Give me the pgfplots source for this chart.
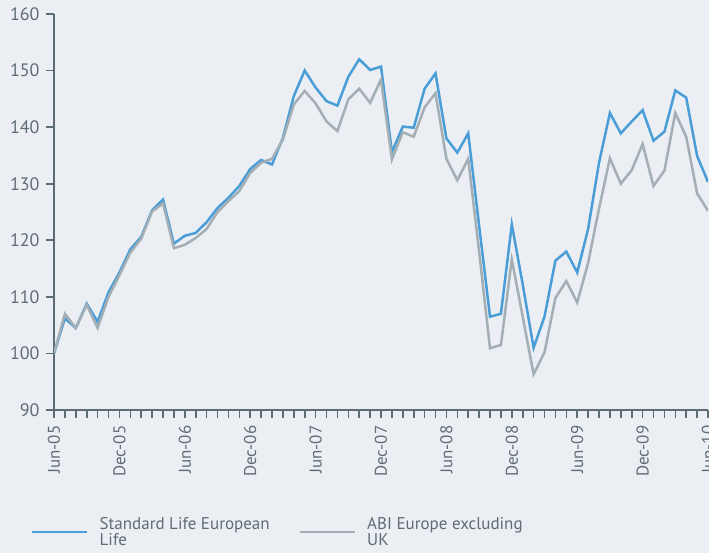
\documentclass[border=0pt]{standalone}
\usepackage{pgfplots}
\pgfplotsset{compat=1.18}
\usepackage{fontspec}
\setmainfont{PT Sans}
\definecolor{bg}{RGB}{235,239,244}
\definecolor{slblue}{RGB}{74,157,214}
\definecolor{abigray}{RGB}{163,174,181}
\definecolor{axiscol}{RGB}{94,108,118}
\definecolor{txtcol}{RGB}{96,108,116}
\pgfplotstableread{
m sl abi
0 100.0 100.0
1 106.2 107.0
2 104.5 104.5
3 108.8 108.6
4 105.6 104.5
5 110.8 110.0
6 114.3 113.8
7 118.4 117.8
8 120.6 120.3
9 125.3 125.1
10 127.2 126.5
11 119.4 118.6
12 120.8 119.2
13 121.3 120.4
14 123.2 122.0
15 125.7 125.0
16 127.5 126.9
17 129.6 128.7
18 132.6 131.9
19 134.2 133.7
20 133.4 134.4
21 138.1 137.8
22 145.5 144.0
23 150.0 146.4
24 147.0 144.2
25 144.6 141.0
26 143.8 139.3
27 148.9 144.9
28 152.0 146.8
29 150.1 144.3
30 150.7 148.4
31 135.6 134.3
32 140.1 139.1
33 139.9 138.3
34 146.8 143.5
35 149.5 146.0
36 138.0 134.4
37 135.5 130.6
38 138.9 134.4
39 122.6 118.0
40 106.5 100.9
41 107.0 101.5
42 122.8 116.6
43 112.2 106.5
44 101.0 96.3
45 106.5 100.2
46 116.4 109.8
47 118.0 112.8
48 114.3 109.0
49 122.0 116.0
50 133.7 125.6
51 142.5 134.5
52 138.9 130.0
53 141.0 132.4
54 143.0 137.0
55 137.6 129.6
56 139.2 132.3
57 146.5 142.5
58 145.2 138.3
59 134.9 128.3
60 130.3 125.2
}\datatable
\begin{document}
\begin{tikzpicture}[x=1bp,y=1bp]
\useasboundingbox (0,0) rectangle (709,553);
\clip (0,0) rectangle (709,553);
\fill[bg] (0,0) rectangle (709,553);
\begin{axis}[
  at={(54bp,143bp)}, anchor=south west,
  scale only axis, width=654bp, height=396bp,
  xmin=0, xmax=60, ymin=90, ymax=160,
  axis lines*=left,
  axis line style={color=axiscol, line width=2bp},
  tick align=outside,
  major tick length=8bp, minor tick length=8bp,
  every tick/.style={color=axiscol, line width=1.6bp},
  xtick={0,6,...,60},
  minor x tick num=5,
  xticklabels={Jun-05,Dec-05,Jun-06,Dec-06,Jun-07,Dec-07,Jun-08,Dec-08,Jun-09,Dec-09,Jun-10},
  ytick={90,100,...,160},
  /pgf/number format/assume math mode=true,
  ticklabel style={text=txtcol},
  yticklabel style={anchor=east, font=\fontsize{18bp}{18bp}\selectfont},
  xticklabel style={rotate=90, anchor=east, font=\fontsize{17bp}{17bp}\selectfont},
  xticklabel shift=4bp,
  yticklabel shift=3bp,
  legend columns=2,
  legend cell align=left,
  legend image code/.code={\draw[#1] (0bp,0bp) -- (55bp,0bp);},
  legend style={at={(rel axis cs:0,0)}, anchor=north west, xshift=-26bp, yshift=-103bp,
    draw=none, fill=none, text=txtcol,
    font=\fontsize{17bp}{16bp}\selectfont,
    cells={align=left},
    /tikz/every odd column/.append style={column sep=9bp},
    /tikz/every even column/.append style={column sep=27bp}},
]
\addplot[color=slblue, line width=2.5bp] table[x=m, y=sl] {\datatable};
\addlegendentry{Standard Life European\\Life}
\addplot[color=abigray, line width=2.5bp] table[x=m, y=abi] {\datatable};
\addlegendentry{ABI Europe excluding\\UK}
\end{axis}
\end{tikzpicture}
\end{document}
